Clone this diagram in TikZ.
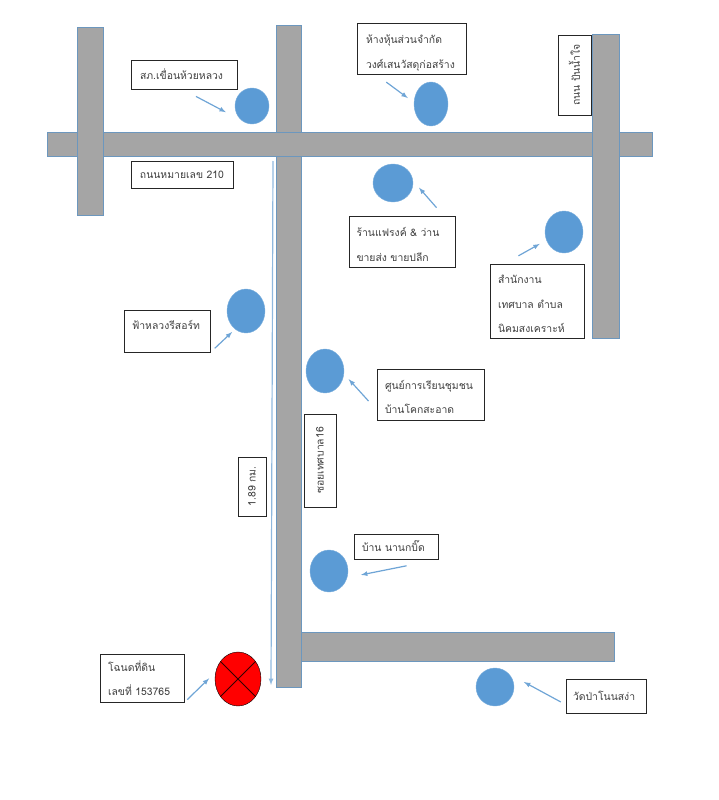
\documentclass[tikz,border=0pt]{standalone}
\usepackage{fontspec}
\usetikzlibrary{shapes.geometric}
\newfontfamily\thaifont[Script=Thai]{Loma}

\definecolor{roadgray}{HTML}{A5A5A5}
\definecolor{roadedge}{HTML}{6C97BE}
\definecolor{spotblue}{HTML}{5B9BD5}
\definecolor{pointerblue}{HTML}{6FA5D6}
\definecolor{linkblue}{HTML}{8FB8DE}

\newcommand{\toppad}[1]{\rule{0pt}{#1}}

\tikzset{
	road/.style = {draw = roadedge, fill = roadgray, line width = 1pt},
	spot/.style = {ellipse, draw = spotblue!80!white, fill = spotblue, inner sep = 0pt},
	placebox/.style = {rectangle, draw = black!85, fill = white, line width = 0.8pt, inner sep = 0pt, text = black!75, font = \thaifont\fontsize{10.4}{24.5}\selectfont}
}

\begin{document}
\begin{tikzpicture}[> = latex, x = 1pt, y = -1pt]

	\useasboundingbox (0, 0) rectangle (718, 800);

	% Roads

	\draw [road] (276, 26) rectangle (301, 687);
	\draw [road] (47, 132) rectangle (652, 156);
	\draw [road] (77, 28) rectangle (103, 215);
	\draw [road] (592, 35) rectangle (619, 338);
	\draw [road] (301, 632) rectangle (614, 661);

	% Places

	\node (spotPolice) [spot, minimum width = 34pt, minimum height = 36pt] at (252, 106) {};
	\node (spotShop) [spot, minimum width = 34pt, minimum height = 44pt] at (431, 104) {};
	\node (spotFrank) [spot, minimum width = 40pt, minimum height = 38pt] at (393, 183) {};
	\node (spotOffice) [spot, minimum width = 38pt, minimum height = 42pt] at (564, 232) {};
	\node (spotResort) [spot, minimum width = 38pt, minimum height = 44pt] at (246, 311) {};
	\node (spotSchool) [spot, minimum width = 38pt, minimum height = 44pt] at (325, 371) {};
	\node (spotHouse) [spot, minimum width = 38pt, minimum height = 42pt] at (329, 571) {};
	\node (spotTemple) [spot, minimum width = 38pt, minimum height = 38pt] at (495, 687) {};

	% Land plot

	\node (spotLand) [ellipse, draw = black, fill = red, inner sep = 0pt, minimum width = 46pt, minimum height = 54pt] at (238, 679) {};
	\draw [black!80!red, line width = 0.8pt] (spotLand.135) -- (spotLand.-45);
	\draw [black!80!red, line width = 0.8pt] (spotLand.45) -- (spotLand.-135);

	% Labels

	\node (boxPolice) [placebox, minimum width = 106pt, minimum height = 29pt, text width = 88pt] at (184, 74.5) {สภ.เขื่อนห้วยหลวง};
	\node (boxShop) [placebox, minimum width = 109pt, minimum height = 51pt, text width = 91pt, align = left] at (411.5, 48.5) {\toppad{18pt}ห้างหุ้นส่วนจำกัด\\วงศ์เสนวัสดุก่อสร้าง};
	\node (boxRoad) [placebox, minimum width = 102pt, minimum height = 27pt, align = center] at (182, 174.5) {ถนนหมายเลข 210};
	\node (boxFrank) [placebox, minimum width = 106pt, minimum height = 51pt, text width = 91pt, align = left] at (402, 241.5) {\toppad{15pt}ร้านแฟรงค์ \& ว่าน\\ขายส่ง ขายปลีก};
	\node (boxWater) [placebox, minimum width = 80pt, minimum height = 33pt, align = center, rotate = 90] at (574.5, 75) {ถนน ปันน้ำใจ};
	\node (boxOffice) [placebox, minimum width = 94pt, minimum height = 74pt, text width = 78pt, align = left] at (537, 301) {\toppad{15pt}สำนักงาน\\เทศบาล ตำบล\\นิคมสงเคราะห์};
	\node (boxResort) [placebox, minimum width = 86pt, minimum height = 42pt, text width = 70pt, text depth = 12pt] at (167, 331) {ฟ้าหลวงรีสอร์ท};
	\node (boxSchool) [placebox, minimum width = 107pt, minimum height = 51pt, text width = 91pt, align = left] at (430.5, 394.5) {\toppad{14pt}ศูนย์การเรียนชุมชน\\บ้านโคกสะอาด};
	\node (boxLane) [placebox, minimum width = 93pt, minimum height = 32pt, align = center, rotate = 90] at (320, 460.5) {ซอยเทศบาล16};
	\node (boxDistance) [placebox, minimum width = 59pt, minimum height = 28pt, align = center, rotate = 90] at (252, 486.5) {1.89 กม.};
	\node (boxHouse) [placebox, minimum width = 84pt, minimum height = 25pt, text width = 68pt] at (396, 546.5) {บ้าน นานกบิ๊ด};
	\node (boxTemple) [placebox, minimum width = 80pt, minimum height = 34pt, text width = 66pt] at (606, 696) {วัดป่าโนนสง่า};
	\node (boxLand) [placebox, minimum width = 84pt, minimum height = 48pt, text width = 68pt, align = left] at (142, 678) {โฉนดที่ดิน\\เลขที่ 153765};

	% Pointers from labels to places

	\begin{scope}[->, draw = pointerblue, line width = 1.2pt]

		\draw [shorten <= 15pt, shorten >= 18pt] (boxPolice.265) -- (spotPolice.235);
		\draw [shorten <= 13pt, shorten >= 7.5pt] (boxShop.216) -- (spotShop.175);
		\draw [shorten <= 10.5pt, shorten >= 9pt] (boxFrank.32) -- (spotFrank.6);
		\draw [shorten <= 16pt, shorten >= 7.5pt] (boxOffice.131) -- (spotOffice.205);
		\draw [shorten <= 6pt, shorten >= 4pt] (boxResort.south east) -- (spotResort.239);
		\draw [shorten <= 12pt, shorten >= 7pt] (boxSchool.196) -- (spotSchool.-9);
		\draw [shorten <= 32.5pt, shorten >= 14pt] (boxHouse.south east) -- (spotHouse.-20);
		\draw [shorten <= 5.5pt, shorten >= 17pt] (boxTemple.192) -- (spotTemple.43);
		\draw [shorten <= 4pt, shorten >= 9pt] (boxLand.south east) -- (spotLand.163);

	\end{scope}

	% Distance along the lane

	\coordinate (linkTop) at (273, 161);
	\coordinate (linkEnd) at (271, 685);
	\draw [->, draw = linkblue, line width = 1.2pt] (linkTop) -- (linkEnd);

\end{tikzpicture}
\end{document}
